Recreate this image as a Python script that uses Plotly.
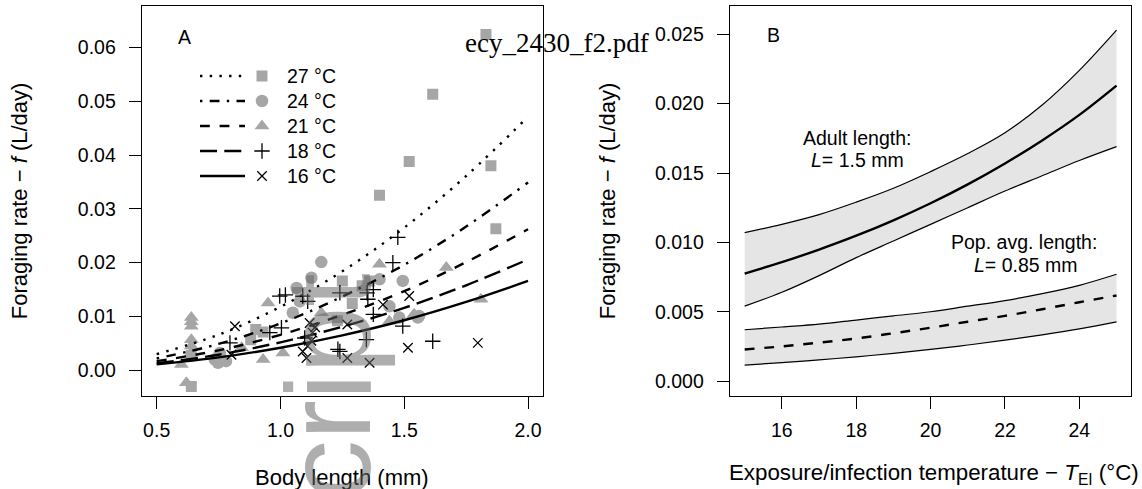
import plotly.graph_objects as go

W, H = 1142, 489

# ---------------- Panel A: observations ----------------
legend_labels = ["27 °C", "24 °C", "21 °C", "18 °C", "16 °C"]

L27 = [0.64, 0.64, 0.88, 0.90, 0.93, 1.23, 1.25, 1.29, 1.33, 1.36, 1.40, 1.52, 1.615, 1.83, 1.85, 1.87]
F27 = [-0.0030, 0.0028, 0.0057, 0.0076, 0.0071, 0.0092, 0.0166, 0.0124, 0.0157, 0.0166, 0.0325, 0.0388, 0.0513, 0.0624, 0.0380, 0.0263]

L24 = [0.735, 0.748, 0.755, 0.755, 0.78, 1.05, 1.065, 1.078, 1.125, 1.165, 1.40, 1.44, 1.48, 1.494, 1.555, 1.56]
F24 = [0.0020, 0.0014, 0.0029, 0.0032, 0.0017, 0.0107, 0.0153, 0.0128, 0.0172, 0.0201, 0.0169, 0.0119, 0.0098, 0.0166, 0.0098, 0.0101]

L21 = [0.60, 0.62, 0.64, 0.64, 0.64, 0.64, 0.64, 0.64, 0.843, 0.93, 0.95, 1.01, 1.165, 1.40, 1.44, 1.535, 1.54, 1.67, 1.81]
F21 = [0.0011, -0.0023, 0.0032, 0.0045, 0.0057, 0.0082, 0.0090, 0.0098, 0.0042, 0.0020, 0.0125, 0.0032, 0.0107, 0.0197, 0.0091, 0.0101, 0.0104, 0.0191, 0.0132]

L18 = [0.796, 0.957, 0.997, 1.004, 1.02, 1.09, 1.098, 1.11, 1.232, 1.24, 1.24, 1.347, 1.35, 1.353, 1.375, 1.375, 1.454, 1.474, 1.494, 1.615]
F18 = [0.0051, 0.0070, 0.0138, 0.0079, 0.0140, 0.0138, 0.0060, 0.0128, 0.0039, 0.0144, 0.0035, 0.0057, 0.0144, 0.0132, 0.0150, 0.0104, 0.0200, 0.0247, 0.0082, 0.0054]

L16 = [0.802, 0.816, 1.09, 1.105, 1.11, 1.118, 1.125, 1.13, 1.14, 1.27, 1.27, 1.36, 1.414, 1.515, 1.52, 1.797]
F16 = [0.0029, 0.0082, 0.0035, 0.0023, 0.0045, 0.0088, 0.0055, 0.0070, 0.0080, 0.0085, 0.0023, 0.0014, 0.0122, 0.0042, 0.0138, 0.0051]

# ---------------- Panel A: fitted curves ----------------
fit_L = [0.5, 0.75, 1.0, 1.25, 1.5, 1.75, 2.0]
fit27 = [0.0030, 0.0066, 0.0118, 0.0184, 0.0265, 0.0361, 0.0471]
fit24 = [0.0022, 0.0049, 0.0087, 0.0137, 0.0196, 0.0267, 0.0349]
fit21 = [0.0017, 0.0037, 0.0066, 0.0103, 0.0147, 0.0201, 0.0262]
fit18 = [0.0013, 0.0029, 0.0052, 0.0081, 0.0116, 0.0158, 0.0206]
fit16 = [0.0011, 0.0024, 0.0042, 0.0065, 0.0093, 0.0127, 0.0166]

# ---------------- Panel B ----------------
T_EI = [15, 16, 17, 18, 19, 20, 21, 22, 23, 24, 25]
adult_mean = [0.00775, 0.00857, 0.00948, 0.01048, 0.01159, 0.01282, 0.01418, 0.01569, 0.01735, 0.01919, 0.02130]
adult_hi = [0.0107, 0.0113, 0.0120, 0.0129, 0.0139, 0.0151, 0.0164, 0.0179, 0.0199, 0.0224, 0.0253]
adult_lo = [0.0054, 0.0064, 0.0076, 0.0089, 0.0101, 0.0113, 0.0125, 0.0137, 0.0148, 0.0159, 0.0169]
pop_mean = [0.00228, 0.00250, 0.00277, 0.00307, 0.00345, 0.00385, 0.00428, 0.00470, 0.00518, 0.00568, 0.00617]
pop_hi = [0.0037, 0.0039, 0.0041, 0.0044, 0.0047, 0.0050, 0.0054, 0.0058, 0.0063, 0.0069, 0.0077]
pop_lo = [0.00115, 0.00133, 0.00153, 0.00175, 0.0020, 0.00228, 0.0026, 0.00295, 0.00333, 0.00376, 0.00427]

# ---------------- styling ----------------
FONT = "Liberation Sans, Arial, Helvetica, sans-serif"
GRAY = "#a6a6a6"
LW = 2.4
DASHES = ["2.4px,7.3px", "2.4px,7.3px,9.8px,7.3px", "9.8px,9.8px", "17px,7.3px", "solid"]
SYMS = [("square", 11, True), ("circle", 12.5, True), ("triangle-up", 13, True),
        ("cross-thin", 11, False), ("x-thin", 9.5, False)]

def marker(sym):
    name, size, filled = sym
    if filled:
        return dict(symbol=name, size=size, color=GRAY, line=dict(width=0))
    return dict(symbol=name, size=size, color="black", line=dict(width=1.3, color="black"))

fig = go.Figure()

obs = [(L27, F27), (L24, F24), (L21, F21), (L18, F18), (L16, F16)]
for (Ls, Fs), sym in zip(obs, SYMS):
    fig.add_trace(go.Scatter(x=Ls, y=Fs, mode="markers", marker=marker(sym),
                             xaxis="x", yaxis="y", showlegend=False, hoverinfo="skip"))

fits = [fit27, fit24, fit21, fit18, fit16]
for fy, dash in zip(fits, DASHES):
    fig.add_trace(go.Scatter(x=fit_L, y=fy, mode="lines",
                             line=dict(color="black", width=LW, dash=dash, shape="spline"),
                             xaxis="x", yaxis="y", showlegend=False, hoverinfo="skip"))

# Panel B bands
for hi, lo in [(adult_hi, adult_lo), (pop_hi, pop_lo)]:
    fig.add_trace(go.Scatter(x=T_EI, y=hi, mode="lines", line=dict(width=0, shape="spline"),
                             xaxis="x2", yaxis="y2", showlegend=False, hoverinfo="skip"))
    fig.add_trace(go.Scatter(x=T_EI, y=lo, mode="lines", line=dict(width=0, shape="spline"),
                             fill="tonexty", fillcolor="#e5e5e5",
                             xaxis="x2", yaxis="y2", showlegend=False, hoverinfo="skip"))
for ys in [adult_hi, adult_lo, pop_hi, pop_lo]:
    fig.add_trace(go.Scatter(x=T_EI, y=ys, mode="lines",
                             line=dict(color="black", width=1.2, shape="spline"),
                             xaxis="x2", yaxis="y2", showlegend=False, hoverinfo="skip"))
fig.add_trace(go.Scatter(x=T_EI, y=adult_mean, mode="lines",
                         line=dict(color="black", width=LW, shape="spline"),
                         xaxis="x2", yaxis="y2", showlegend=False, hoverinfo="skip"))
fig.add_trace(go.Scatter(x=T_EI, y=pop_mean, mode="lines",
                         line=dict(color="black", width=LW, dash="9.8px,9.8px", shape="spline"),
                         xaxis="x2", yaxis="y2", showlegend=False, hoverinfo="skip"))

# Legend of panel A (pixel-space overlay axis)
LEG_ROWS = [76, 101, 126, 151, 176]
LEG_LINE = (200, 245)
LEG_SYM_X = 262
LEG_TXT_X = 285
for row, dash, sym in zip(LEG_ROWS, DASHES, SYMS):
    fig.add_trace(go.Scatter(x=list(LEG_LINE), y=[row, row], mode="lines",
                             line=dict(color="black", width=LW, dash=dash),
                             xaxis="x3", yaxis="y3", showlegend=False, hoverinfo="skip"))
    fig.add_trace(go.Scatter(x=[LEG_SYM_X], y=[row], mode="markers", marker=marker(sym),
                             xaxis="x3", yaxis="y3", showlegend=False, hoverinfo="skip"))

# ---------------- axes ----------------
def px(x):
    return x / W

def py(y):
    return 1 - y / H

Y_DOM = [py(395.5), py(6)]
common = dict(showline=True, mirror=True, linecolor="black", linewidth=1.2,
              ticks="outside", ticklen=12, tickwidth=1.2, tickcolor="black",
              showgrid=False, zeroline=False,
              tickfont=dict(family=FONT, size=19.5, color="black"))

fig.update_layout(
    width=W, height=H, margin=dict(l=0, r=0, t=0, b=0),
    paper_bgcolor="white", plot_bgcolor="rgba(0,0,0,0)",
    xaxis=dict(domain=[px(141.8), px(542.9)], range=[0.44, 2.06], anchor="y",
               tickvals=[0.5, 1.0, 1.5, 2.0], tickformat=".1f", ticklabelstandoff=5, **common),
    yaxis=dict(domain=Y_DOM, range=[-0.00468, 0.06768], anchor="x",
               tickvals=[0, 0.01, 0.02, 0.03, 0.04, 0.05, 0.06], tickformat=".2f",
               ticklabelstandoff=9, **common),
    xaxis2=dict(domain=[px(729.8), px(1131.4)], range=[14.6, 25.4], anchor="y2",
                tickvals=[16, 18, 20, 22, 24], ticklabelstandoff=5, **common),
    yaxis2=dict(domain=Y_DOM, range=[-0.00104, 0.02704], anchor="x2",
                tickvals=[0, 0.005, 0.01, 0.015, 0.02, 0.025], tickformat=".3f",
                ticklabelstandoff=9, **common),
    xaxis3=dict(domain=[0, 1], range=[0, W], visible=False, anchor="y3", fixedrange=True),
    yaxis3=dict(domain=[0, 1], range=[H, 0], visible=False, anchor="x3", fixedrange=True),
)

ann = []
def text(x, y, s, size=19.5, xanchor="center", angle=0, family=FONT, color="black"):
    ann.append(dict(x=px(x), y=py(y), xref="paper", yref="paper", text=s, showarrow=False,
                    xanchor=xanchor, yanchor="middle", textangle=angle,
                    font=dict(family=family, size=size, color=color)))

text(184, 37, "A")
text(773, 35, "B")
for row, lab in zip(LEG_ROWS, legend_labels):
    text(LEG_TXT_X, row, lab, xanchor="left")
text(857, 138, "Adult length:")
text(857, 160, "<i>L</i>= 1.5 mm")
text(1024, 242, "Pop. avg. length:")
text(1026, 265, "<i>L</i>= 0.85 mm")
text(342.3, 477, "Body length (mm)", size=22)
text(934, 474, "Exposure/infection temperature \u2212 <i>T</i><sub>EI</sub> (°C)", size=22.3)
text(19.5, 200.75, "Foraging rate \u2212 <i>f</i> (L/day)", size=22, angle=-90)
text(607.5, 200.75, "Foraging rate \u2212 <i>f</i> (L/day)", size=22, angle=-90)
# overlaid document stamps
text(557, 43, "ecy_2430_f2.pdf", size=27, family="Liberation Serif, Times New Roman, serif")
text(328, 386, "cript", size=120, angle=-90, color="rgba(100,100,100,0.52)")

fig.update_layout(annotations=ann)
fig.write_html("out.html")
